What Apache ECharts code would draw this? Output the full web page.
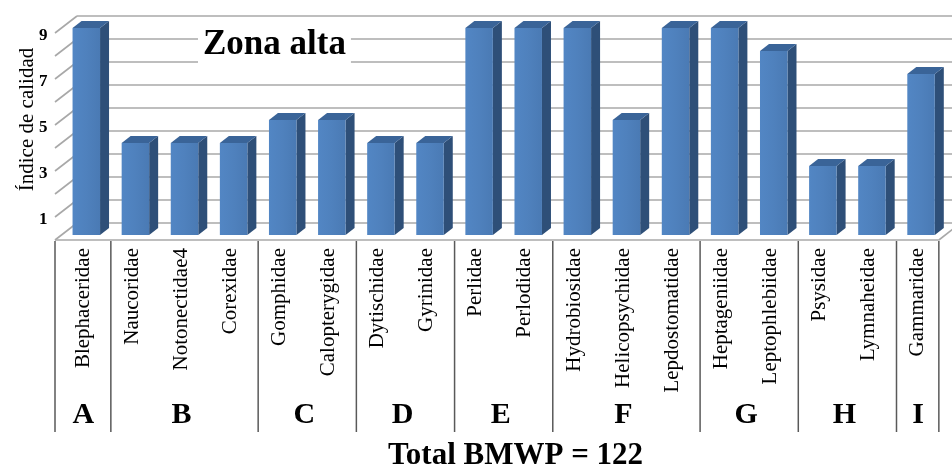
<!DOCTYPE html>
<html>
<head>
<meta charset="utf-8">
<script src="https://cdn.jsdelivr.net/npm/echarts@6/dist/echarts.min.js"></script>
<style>html,body{margin:0;padding:0;background:#fff;}#c{width:952px;height:468px;}</style>
</head>
<body>
<div id="c"></div>
<script>
const categories = ['Blephaceridae','Naucoridae','Notonectidae4','Corexidae','Gomphidae','Calopterygidae','Dytischidae','Gyrinidae','Perlidae','Perlodidae','Hydrobiosidae','Helicopsychidae','Lepdostomatidae','Heptageniidae','Leptophlebiidae','Psysidae','Lymnaheidae','Gammaridae'];
const values = [9,4,4,4,5,5,4,4,9,9,9,5,9,9,8,3,3,7];
const groupLetters = ['A','B','C','D','E','F','G','H','I'];
const groupSizes = [1,3,2,2,2,3,2,2,1];
const gridValues = [0,1,2,3,4,5,6,7,8,9];
const yTickLabels = ['1','3','5','7','9'];
const chartTitle = 'Zona alta';
const bottomTitle = 'Total BMWP = 122';
const yName = 'Índice de calidad';

const SERIF = "'Liberation Serif','Times New Roman',serif";
const GRID_COLOR = '#A8A8A8';
// 3D projection offsets relative to the bar front plane
const FLOOR_DX = -6.75, FLOOR_DY = 5;
const BACK_DX = 15.25, BACK_DY = -12;
const BAR_DX = 9, BAR_DY = -7;

const groupData = [];
let start = 0;
groupSizes.forEach((s, gi) => { groupData.push([start, s, gi]); start += s; });

const chart = echarts.init(document.getElementById('c'), null, {renderer: 'canvas'});

const option = {
  backgroundColor: '#fff',
  animation: false,
  title: [
    {text: chartTitle, left: 198, top: 24, padding: [3, 5], backgroundColor: '#fff',
     textStyle: {fontFamily: SERIF, fontWeight: 'bold', fontSize: 35, lineHeight: 36, color: '#000'}, z: 20},
    {text: bottomTitle, left: 388, top: 440, padding: 0,
     textStyle: {fontFamily: SERIF, fontWeight: 'bold', fontSize: 31, lineHeight: 32, color: '#000'}}
  ],
  grid: [
    {left: 61.75, right: 6.4, top: 28, bottom: 233},
    {left: 77, right: 0, top: 16, bottom: 245},
    {left: 58.5, right: 9.7, top: 36, bottom: 225}
  ],
  xAxis: [
    {gridIndex: 0, type: 'category', data: categories, show: false},
    {gridIndex: 1, type: 'value', min: 0, max: 1, show: false},
    {gridIndex: 2, type: 'category', data: categories,
     axisLine: {show: false}, axisTick: {show: false},
     axisLabel: {rotate: 90, interval: 0, margin: 5, fontFamily: SERIF, fontSize: 21, color: '#000'}}
  ],
  yAxis: [
    {gridIndex: 0, type: 'value', min: 0, max: 9, show: false},
    {gridIndex: 1, type: 'value', min: 0, max: 9, interval: 1,
     axisLine: {show: false}, axisTick: {show: false}, axisLabel: {show: false},
     splitLine: {show: true, lineStyle: {color: GRID_COLOR, width: 1.6}},
     name: yName, nameLocation: 'middle', nameGap: 39,
     nameTextStyle: {fontFamily: SERIF, fontSize: 21, color: '#000'}},
    {gridIndex: 2, type: 'value', min: 0, max: 9, interval: 1,
     axisLine: {show: false}, axisTick: {show: false}, splitLine: {show: false},
     axisLabel: {margin: 11, fontFamily: SERIF, fontWeight: 'bold', fontSize: 17, color: '#000',
       formatter: v => yTickLabels.indexOf(String(v)) >= 0 ? String(v) : ''}}
  ],
  series: [
    {
      type: 'custom', xAxisIndex: 0, yAxisIndex: 0, silent: true, clip: false, z: 1,
      data: gridValues.map(v => [0, v]),
      renderItem: function (params, api) {
        const v = api.value(1);
        const p = api.coord([0, v]);
        const bw = api.size([1, 0])[0];
        const x0 = p[0] - bw / 2;
        const children = [{
          type: 'line',
          shape: {x1: x0 + FLOOR_DX, y1: p[1] + FLOOR_DY, x2: x0 + BACK_DX, y2: p[1] + BACK_DY},
          style: {stroke: GRID_COLOR, lineWidth: 1.6}
        }];
        if (v === 0) {
          const pe = api.coord([categories.length - 1, 0]);
          const xe = pe[0] + bw / 2;
          children.push({type: 'line',
            shape: {x1: x0 + FLOOR_DX, y1: p[1] + FLOOR_DY, x2: xe + FLOOR_DX, y2: p[1] + FLOOR_DY},
            style: {stroke: GRID_COLOR, lineWidth: 1.6}});
          children.push({type: 'line',
            shape: {x1: xe + FLOOR_DX, y1: p[1] + FLOOR_DY, x2: xe + BACK_DX, y2: p[1] + BACK_DY},
            style: {stroke: GRID_COLOR, lineWidth: 1.6}});
        }
        return {type: 'group', children: children};
      }
    },
    {
      type: 'custom', xAxisIndex: 0, yAxisIndex: 0, clip: false, z: 3,
      data: values.map((v, i) => [i, v]),
      renderItem: function (params, api) {
        const i = api.value(0), v = api.value(1);
        const top = api.coord([i, v]);
        const base = api.coord([i, 0]);
        const bw = api.size([1, 0])[0];
        const w = bw * 0.56;
        const x = top[0] - w / 2, yt = top[1], yb = base[1];
        return {type: 'group', children: [
          {type: 'polygon', shape: {points: [[x + w, yt], [x + w + BAR_DX, yt + BAR_DY], [x + w + BAR_DX, yb + BAR_DY], [x + w, yb]]},
           style: {fill: '#2E4F78'}},
          {type: 'polygon', shape: {points: [[x, yt], [x + BAR_DX, yt + BAR_DY], [x + w + BAR_DX, yt + BAR_DY], [x + w, yt]]},
           style: {fill: '#3A6498'}},
          {type: 'rect', shape: {x: x, y: yt, width: w, height: yb - yt},
           style: {fill: new echarts.graphic.LinearGradient(0, 0, 1, 0, [
             {offset: 0, color: '#5286C4'}, {offset: 0.5, color: '#4F81BD'}, {offset: 1, color: '#4A7AB4'}])}}
        ]};
      }
    },
    {
      type: 'custom', xAxisIndex: 0, yAxisIndex: 0, silent: true, clip: false, z: 2,
      data: groupData,
      renderItem: function (params, api) {
        const s = api.value(0), n = api.value(1), gi = api.value(2);
        const bw = api.size([1, 0])[0];
        const ps = api.coord([s, 0]);
        const pe = api.coord([s + n - 1, 0]);
        let xl = ps[0] - bw / 2;
        let xr = pe[0] + bw / 2;
        const yb = ps[1];
        const isFirst = s === 0;
        const isLast = s + n === categories.length;
        if (isFirst) xl += FLOOR_DX;
        const children = [
          {type: 'line', shape: {x1: xl, y1: yb + 6, x2: xl, y2: yb + 197}, style: {stroke: '#595959', lineWidth: 1.5}},
          {type: 'text', style: {text: groupLetters[gi], x: (ps[0] - bw / 2 + pe[0] + bw / 2) / 2 - 3, y: yb + 180,
            align: 'center', verticalAlign: 'middle', fontFamily: SERIF, fontWeight: 'bold', fontSize: 30, fill: '#000'}}
        ];
        if (isLast) {
          children.push({type: 'line', shape: {x1: xr + FLOOR_DX, y1: yb + 6, x2: xr + FLOOR_DX, y2: yb + 197},
            style: {stroke: '#595959', lineWidth: 1.5}});
        }
        return {type: 'group', children: children};
      }
    }
  ]
};
chart.setOption(option);
</script>
</body>
</html>
